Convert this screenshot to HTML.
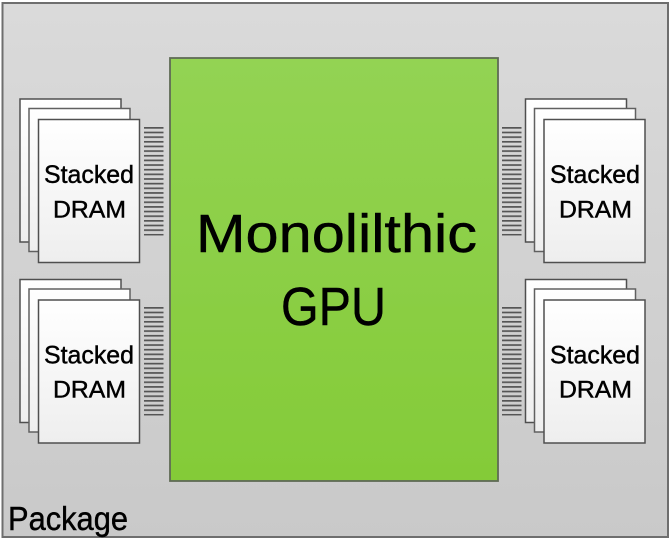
<!DOCTYPE html>
<html lang="en">
<head>
<meta charset="utf-8">
<title>Monolithic GPU package</title>
<style>
html,body{margin:0;padding:0;background:#fff;width:671px;height:540px;overflow:hidden}
svg{display:block;font-family:"Liberation Sans",sans-serif}
</style>
</head>
<body>
<svg width="671" height="540" viewBox="0 0 671 540" xmlns="http://www.w3.org/2000/svg">
<defs>
<linearGradient id="pkg" x1="0" y1="0" x2="0" y2="1"><stop offset="0" stop-color="#dadada"/><stop offset="1" stop-color="#c9c9c9"/></linearGradient>
<linearGradient id="gpu" x1="0" y1="0" x2="0" y2="1"><stop offset="0" stop-color="#93d353"/><stop offset="1" stop-color="#84cb38"/></linearGradient>
<linearGradient id="sheet" x1="0" y1="0" x2="0" y2="1"><stop offset="0" stop-color="#ffffff"/><stop offset="1" stop-color="#eeeeee"/></linearGradient>
<pattern id="lines" patternUnits="userSpaceOnUse" width="20" height="4.65"><rect width="20" height="1.7" fill="#555"/></pattern>
<filter id="soft" x="-5%" y="-5%" width="110%" height="110%"><feGaussianBlur stdDeviation="0.3"/></filter>
<g id="stack">
<rect x="0" y="0" width="101" height="143" fill="url(#sheet)" stroke="#505050" stroke-width="1.5"/>
<rect x="9" y="9.500" width="101" height="143" fill="url(#sheet)" stroke="#606060" stroke-width="1.5"/>
<rect x="18.500" y="20.500" width="101" height="143" fill="url(#sheet)" stroke="#505050" stroke-width="1.5"/>
</g>
<rect id="comb" x="0" y="0" width="19.500" height="108.500" fill="url(#lines)"/>
</defs>
<g filter="url(#soft)">
<rect x="2.500" y="3" width="665.500" height="534" fill="url(#pkg)" stroke="#6e6e6e" stroke-width="2"/>
<rect x="170" y="58" width="328" height="423" fill="url(#gpu)" stroke="#5f6b55" stroke-width="1.8"/>

<use href="#stack" x="20" y="99"/>
<use href="#stack" x="20" y="279.500"/>
<use href="#stack" x="525.500" y="99"/>
<use href="#stack" x="525.500" y="279.500"/>

<use href="#comb" x="144" y="127"/>
<use href="#comb" x="144" y="307"/>
<use href="#comb" x="502" y="127"/>
<use href="#comb" x="502" y="307"/>

<g fill="#000" stroke="#000" stroke-width="0.45">
<text x="196" y="252" font-size="54" textLength="281" lengthAdjust="spacingAndGlyphs">Monolilthic</text>
<text x="281" y="325" font-size="54" textLength="105" lengthAdjust="spacingAndGlyphs">GPU</text>
<text x="8" y="530" font-size="33" textLength="120" lengthAdjust="spacingAndGlyphs">Package</text>

<text x="44" y="183" font-size="25" textLength="90" lengthAdjust="spacingAndGlyphs">Stacked</text>
<text x="53" y="217.500" font-size="24" textLength="73" lengthAdjust="spacingAndGlyphs">DRAM</text>
<text x="44" y="363.500" font-size="25" textLength="90" lengthAdjust="spacingAndGlyphs">Stacked</text>
<text x="53" y="397.500" font-size="24" textLength="73" lengthAdjust="spacingAndGlyphs">DRAM</text>

<text x="550" y="183" font-size="25" textLength="90" lengthAdjust="spacingAndGlyphs">Stacked</text>
<text x="559" y="217.500" font-size="24" textLength="73" lengthAdjust="spacingAndGlyphs">DRAM</text>
<text x="550" y="363.500" font-size="25" textLength="90" lengthAdjust="spacingAndGlyphs">Stacked</text>
<text x="559" y="397.500" font-size="24" textLength="73" lengthAdjust="spacingAndGlyphs">DRAM</text>
</g>
</g>
</svg>
</body>
</html>
